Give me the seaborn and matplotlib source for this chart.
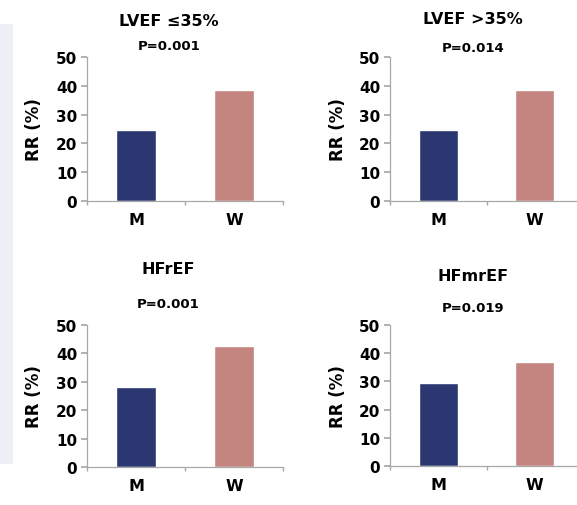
import matplotlib
matplotlib.use("Agg")
import matplotlib.pyplot as plt
from matplotlib.patches import Rectangle
import seaborn as sns
import pandas as pd

# Readmission rate by sex in each subgroup
groups = ["M", "W"]
panel_titles = ["LVEF \u226435%", "LVEF >35%", "HFrEF", "HFmrEF"]
p_values = ["P=0.001", "P=0.014", "P=0.001", "P=0.019"]
rr_men = [24.7, 24.7, 28.3, 29.3]
rr_women = [38.4, 38.6, 42.7, 37.0]
y_ticks = [0, 10, 20, 30, 40, 50]

palette = {"M": "#2A3770", "W": "#C4847F"}
axis_grey = "#A8A8A8"

sns.set_theme(style="white")
plt.rcParams["font.family"] = ["DejaVu Sans"]

W, H = 577, 506
fig = plt.figure(figsize=(W / 100, H / 100), dpi=100)
fig.patch.set_facecolor("white")

# soft side panel on the left edge
fig.patches.append(Rectangle((0, 1 - 465 / H), 13 / W, (465 - 25) / H,
                             transform=fig.transFigure, facecolor="#EEF0F7",
                             edgecolor="none", zorder=0))

# axes boxes in pixels: left, top, right, bottom
boxes = [(87, 58, 283, 202), (390, 58, 583, 202),
         (87, 326, 283, 468), (390, 326, 583, 467)]
# title / p-value text positions in pixels: x centre, title y, p y
text_pos = [(169, 21, 47), (473, 20, 48), (168, 270, 305), (473, 277, 308)]

for i in range(4):
    l, t, r, b = boxes[i]
    ax = fig.add_axes([l / W, 1 - b / H, (r - l) / W, (b - t) / H])
    df = pd.DataFrame({"group": groups, "rr": [rr_men[i], rr_women[i]]})
    sns.barplot(data=df, x="group", y="rr", hue="group", palette=palette,
                width=0.4, saturation=1, legend=False, ax=ax, zorder=2)
    ax.set_xlim(-0.5, 1.5)
    ax.set_ylim(0, 50)
    ax.set_yticks(y_ticks)
    ax.set_xlabel("")
    ax.set_ylabel("RR (%)", fontsize=12, fontweight="bold", color="black")
    ax.yaxis.set_label_coords(-0.225, 0.5)
    for s in ("top", "right"):
        ax.spines[s].set_visible(False)
    for s in ("left", "bottom"):
        ax.spines[s].set_color(axis_grey)
        ax.spines[s].set_linewidth(0.9)
    ax.set_xticks([-0.5, 0.5, 1.5], minor=True)
    ax.tick_params(axis="x", which="major", length=0, pad=8,
                   labelsize=11.5, colors="black")
    ax.tick_params(axis="x", which="minor", length=3, direction="out",
                   color=axis_grey, bottom=True)
    ax.tick_params(axis="y", length=4, direction="out", color=axis_grey,
                   pad=3, labelsize=11, left=True, colors="black")
    for lab in ax.get_xticklabels() + ax.get_yticklabels():
        lab.set_fontweight("bold")
        lab.set_color("black")

    cx, ty, py = text_pos[i]
    fig.text(cx / W, 1 - ty / H, panel_titles[i], ha="center", va="center",
             fontsize=11.5, fontweight="bold", color="black")
    fig.text(cx / W, 1 - py / H, p_values[i], ha="center", va="center",
             fontsize=9.5, fontweight="bold", color="black")

fig.savefig("out.png", dpi=100)
